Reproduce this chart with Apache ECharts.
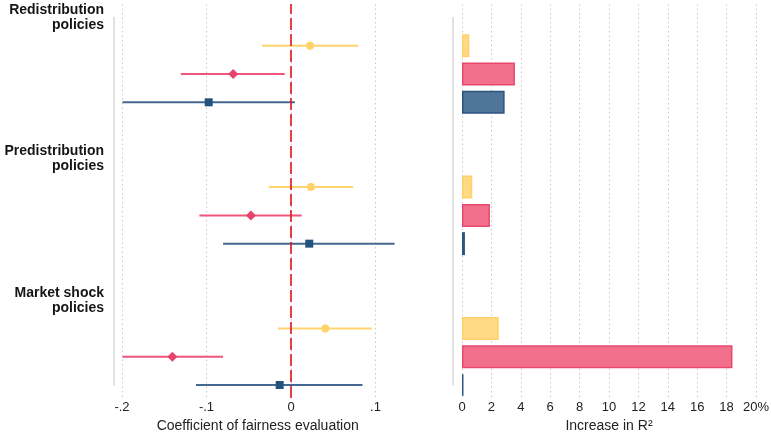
<!DOCTYPE html>
<html><head><meta charset="utf-8">
<script src="https://cdn.jsdelivr.net/npm/echarts@6/dist/echarts.min.js"></script>
<style>html,body{margin:0;padding:0;background:#fff}#c{width:771px;height:435px}</style>
</head><body><div id="c"></div>
<script>
// ---- data ----
const groups = ['Redistribution\npolicies', 'Predistribution\npolicies', 'Market shock\npolicies'];
const coefTicks = [-0.2, -0.1, 0, 0.1];
const coefTickLabels = ['-.2', '-.1', '0', '.1'];
const r2Ticks = [0, 2, 4, 6, 8, 10, 12, 14, 16, 18, 20];
const r2TickLabels = ['0', '2', '4', '6', '8', '10', '12', '14', '16', '18', '20%'];

const coefYellow = [0.022, 0.023, 0.040];
const loYellow   = [-0.035, -0.027, -0.016];
const hiYellow   = [0.079, 0.073, 0.095];
const coefRed    = [-0.069, -0.048, -0.141];
const loRed      = [-0.131, -0.109, -0.200];
const hiRed      = [-0.008, 0.012, -0.081];
const coefBlue   = [-0.098, 0.021, -0.014];
const loBlue     = [-0.200, -0.081, -0.113];
const hiBlue     = [0.004, 0.122, 0.084];

const r2Yellow = [0.5, 0.7, 2.5];
const r2Red    = [3.6, 1.9, 18.4];
const r2Blue   = [2.9, 0.2, 0.1];

// ---- build category slots: label, yellow, red, blue, gap ----
const slots = [];
groups.forEach((g, i) => {
  slots.push(g);
  slots.push('y' + i); slots.push('r' + i); slots.push('b' + i);
  if (i < groups.length - 1) slots.push('gap' + i);
});
const slotOf = (g, off) => g * 5 + off;

const C = {
  yellow: {line: '#FFD470', mark: '#FFD36A', fill: '#FFD983', border: '#FFD06B'},
  red:    {line: '#EF5479', mark: '#E8436B', fill: '#F2708B', border: '#E9496F'},
  blue:   {line: '#44698F', mark: '#23527F', fill: '#50759A', border: '#2C5680'}
};

function ciSeries(lo, hi, off, color) {
  return {
    type: 'custom', xAxisIndex: 1, yAxisIndex: 1, z: 3, silent: true,
    data: lo.map((l, g) => [l, hi[g], slotOf(g, off)]),
    encode: {x: [0, 1], y: 2},
    renderItem: (params, api) => {
      const a = api.coord([api.value(0), api.value(2)]);
      const b = api.coord([api.value(1), api.value(2)]);
      return {type: 'line', shape: {x1: a[0], y1: a[1], x2: b[0], y2: b[1]},
              style: {stroke: color, lineWidth: 2}};
    }
  };
}
function ptSeries(vals, off, color, symbol, size) {
  return {
    type: 'scatter', xAxisIndex: 1, yAxisIndex: 1, z: 4, silent: true,
    symbol: symbol, symbolSize: size,
    itemStyle: {color: color, opacity: 1},
    data: vals.map((v, g) => [v, slotOf(g, off)])
  };
}
function barSeries(vals, off, col) {
  const d = slots.map(() => null);
  vals.forEach((v, g) => { d[slotOf(g, off)] = v; });
  return {
    type: 'bar', xAxisIndex: 3, yAxisIndex: 3, barWidth: 23, barGap: '-100%', silent: true,
    itemStyle: {color: col.fill, borderColor: col.border, borderWidth: 1.5},
    data: d
  };
}

const grid = '#c9c9c9';
const fontFam = '"Liberation Sans", Arial, sans-serif';
const ratio = 845; // px per unit coefficient
const rpx = 14.7;  // px per percent

const chart = echarts.init(document.getElementById('c'), null, {renderer: 'canvas'});
chart.setOption({
  animation: false,
  backgroundColor: '#fff',
  textStyle: {fontFamily: fontFam},
  grid: [
    {left: 122, width: 0.3 * ratio, top: 4, height: 394, outerBoundsMode: 'none', containLabel: false},
    {left: 291.5 - 0.21 * ratio, width: 0.34 * ratio, top: 17.5, height: 367.5, outerBoundsMode: 'none', containLabel: false},
    {left: 462, width: 20 * rpx, top: 4, height: 394, outerBoundsMode: 'none', containLabel: false},
    {left: 462 - 0.65 * rpx, width: 20.65 * rpx, top: 17.5, height: 367.5, outerBoundsMode: 'none', containLabel: false}
  ],
  xAxis: [
    {type: 'value', gridIndex: 0, min: coefTicks[0], max: coefTicks[coefTicks.length - 1], interval: 0.1,
     axisLine: {show: false}, axisTick: {show: false},
     axisLabel: {margin: 3, fontSize: 13, color: '#222', fontFamily: fontFam,
       formatter: v => { const i = coefTicks.findIndex(t => Math.abs(t - v) < 1e-9); return i >= 0 ? coefTickLabels[i] : ''; }},
     splitLine: {show: true, lineStyle: {color: grid, type: [1.5, 3], width: 1}}},
    {type: 'value', gridIndex: 1, min: -0.21, max: 0.13,
     axisLine: {show: false}, axisTick: {show: false}, axisLabel: {show: false}, splitLine: {show: false},
     name: 'Coefficient of fairness evaluation', nameLocation: 'middle', nameGap: 34,
     nameTextStyle: {fontSize: 14, color: '#222', fontFamily: fontFam}},
    {type: 'value', gridIndex: 2, min: 0, max: 20, interval: 2,
     axisLine: {show: false}, axisTick: {show: false},
     axisLabel: {margin: 3, fontSize: 13, color: '#222', fontFamily: fontFam,
       formatter: v => { const i = r2Ticks.indexOf(v); return i >= 0 ? r2TickLabels[i] : ''; }},
     splitLine: {show: true, lineStyle: {color: grid, type: [1.5, 3], width: 1}},
     name: 'Increase in R²', nameLocation: 'middle', nameGap: 19,
     nameTextStyle: {fontSize: 14, color: '#222', fontFamily: fontFam}},
    {type: 'value', gridIndex: 3, min: -0.65, max: 20, show: false}
  ],
  yAxis: [
    {type: 'value', gridIndex: 0, min: 0, max: 1, show: false},
    {type: 'category', gridIndex: 1, data: slots, inverse: true, boundaryGap: false,
     axisLine: {show: true, onZero: false, lineStyle: {color: '#d8d8d8', width: 1.5}},
     axisTick: {show: false}, splitLine: {show: false},
     axisLabel: {margin: 10, fontSize: 14, fontWeight: 'bold', color: '#151515', lineHeight: 15,
       fontFamily: fontFam, align: 'right', interval: 0,
       formatter: v => groups.includes(v) ? v : ''}},
    {type: 'value', gridIndex: 2, min: 0, max: 1, show: false},
    {type: 'category', gridIndex: 3, data: slots, inverse: true, boundaryGap: false,
     axisLine: {show: true, onZero: false, lineStyle: {color: '#d8d8d8', width: 1.5}},
     axisTick: {show: false}, axisLabel: {show: false}, splitLine: {show: false}}
  ],
  series: [
    {type: 'scatter', xAxisIndex: 0, yAxisIndex: 0, data: [], z: 2, silent: true,
     markLine: {symbol: 'none', silent: true, label: {show: false},
       lineStyle: {color: '#E3121F', type: [12, 4], width: 1.6},
       data: [{xAxis: 0}]}},
    ciSeries(loYellow, hiYellow, 1, C.yellow.line),
    ciSeries(loRed, hiRed, 2, C.red.line),
    ciSeries(loBlue, hiBlue, 3, C.blue.line),
    ptSeries(coefYellow, 1, C.yellow.mark, 'circle', 8),
    ptSeries(coefRed, 2, C.red.mark, 'diamond', 10),
    ptSeries(coefBlue, 3, C.blue.mark, 'rect', 8),
    barSeries(r2Yellow, 1, C.yellow),
    barSeries(r2Red, 2, C.red),
    barSeries(r2Blue, 3, C.blue)
  ]
});
</script>
</body></html>
